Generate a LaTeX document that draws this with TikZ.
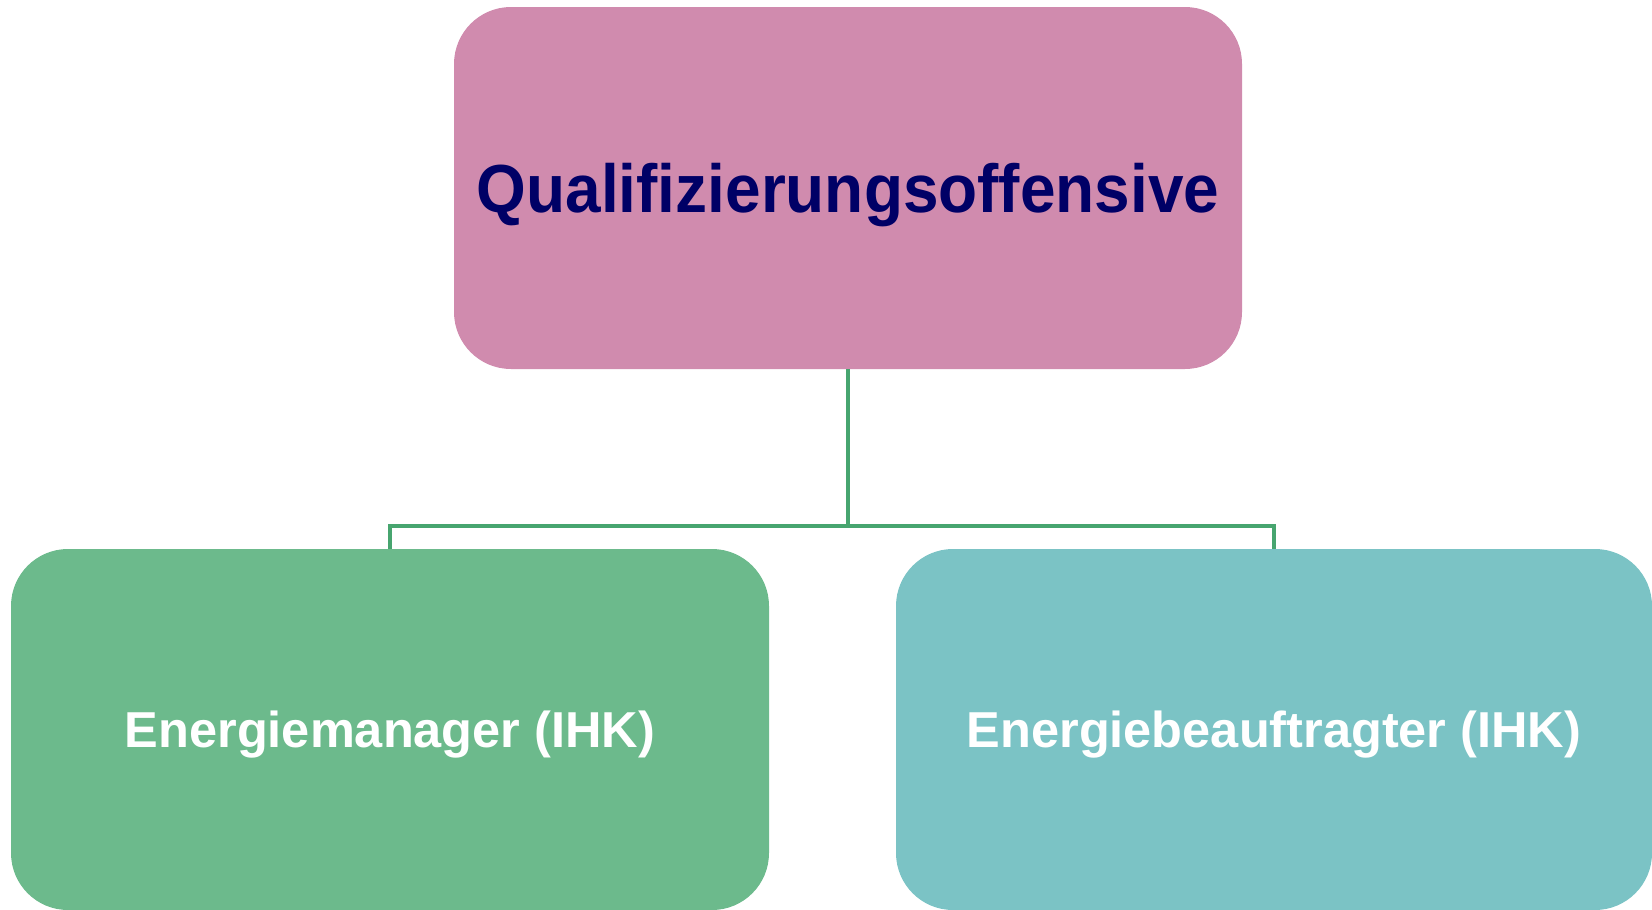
\documentclass[tikz,border=0pt]{standalone}
\usepackage{fontspec}
\setmainfont{Liberation Sans}
\newfontfamily\titlefont[FakeStretch=0.94]{Liberation Sans}
\definecolor{topfill}{HTML}{D08BAE}
\definecolor{leftfill}{HTML}{6CBA8C}
\definecolor{rightfill}{HTML}{7BC3C5}
\definecolor{linkcol}{HTML}{47A56F}
\definecolor{titlecol}{HTML}{000066}
\tikzset{
  orgbox/.style={rectangle, rounded corners=57pt, draw=none, inner sep=0pt,
                 align=center, text depth=0pt},
  conn/.style={draw=linkcol, line width=3.5pt}
}
\begin{document}
\begin{tikzpicture}[x=1pt,y=-1pt]
  \useasboundingbox (0,0) rectangle (1652,910);
  % top level
  \node[orgbox, fill=topfill, minimum width=788pt, minimum height=362pt,
        font=\titlefont\fontsize{68}{76}\selectfont\bfseries, text=titlecol]
    (top) at (848,188) {Qualifizierungsoffensive};
  % second level
  \node[orgbox, fill=leftfill, minimum width=758pt, minimum height=361pt,
        font=\fontsize{50.5}{58}\selectfont\bfseries, text=white]
    (left) at (390,729.5) {Energiemanager (IHK)};
  \node[orgbox, fill=rightfill, minimum width=756pt, minimum height=361pt,
        font=\fontsize{50.5}{58}\selectfont\bfseries, text=white]
    (right) at (1274,729.5) {Energiebeauftragter (IHK)};
  % connectors
  \coordinate (bus) at (848,526);
  \draw[conn] (top.south) -- (bus);
  \draw[conn] (left.north) |- (bus) -| (right.north);
\end{tikzpicture}
\end{document}
